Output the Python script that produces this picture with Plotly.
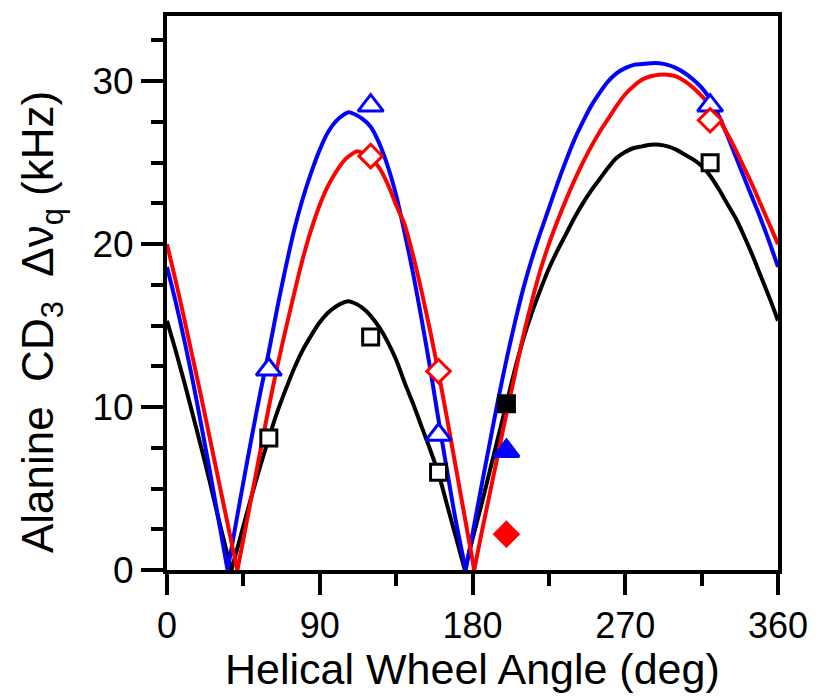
import plotly.graph_objects as go

# ---------------- data ----------------
# fitted curves: helical wheel angle (deg) -> |quadrupolar splitting| (kHz)
black_x = [0, 5, 10, 15, 20, 25, 30, 35, 38,
           45, 50, 55, 60, 65, 70, 75, 80, 85, 90, 95, 100, 105, 107, 110, 115, 120, 125,
           130, 135, 140, 145, 150, 155, 160, 165, 170, 175.5,
           180, 185, 190, 195, 200, 205, 210, 215, 220, 225, 230, 235, 240, 245, 250, 255,
           260, 265, 270, 275, 280, 285, 290, 295, 300, 305, 310, 315, 320, 325, 330, 335,
           340, 345, 350, 355, 360]
black_y = [15.3, 13.5, 11.6, 9.6, 7.6, 5.5, 3.3, 1.2, 0,
           2.7, 4.6, 6.4, 8.1, 9.7, 11.1, 12.4, 13.5, 14.4, 15.2, 15.8, 16.2, 16.45, 16.5, 16.4, 16.1, 15.6, 14.9,
           14.0, 12.9, 11.5, 10.2, 8.8, 7.4, 5.9, 4.0, 2.1, 0,
           1.9, 3.9, 6.0, 8.1, 10.2, 12.3, 14.2, 15.8, 17.2, 18.5, 19.6, 20.6, 21.6, 22.5, 23.3, 24.0,
           24.7, 25.3, 25.65, 25.9, 26.0, 26.1, 26.1, 26.0, 25.8, 25.5, 25.2, 24.8, 24.2, 23.4, 22.5, 21.6,
           20.5, 19.3, 18.0, 16.7, 15.3]

blue_x = [0, 5, 10, 15, 20, 25, 30, 35, 35.7,
          40, 45, 50, 55, 60, 65, 70, 75, 80, 85, 90, 95, 100, 105, 107, 110, 115, 120, 125,
          130, 135, 140, 145, 150, 155, 160, 165, 170, 175, 176,
          180, 185, 190, 195, 200, 205, 210, 215, 220, 225, 230, 235, 240, 245, 250, 255,
          260, 265, 270, 275, 280, 285, 290, 295, 300, 305, 310, 315, 320, 325, 330, 335,
          340, 345, 350, 355, 360]
blue_y = [18.6, 16.5, 14.2, 11.7, 9.0, 6.2, 3.3, 0.4, 0,
          2.5, 5.4, 8.2, 10.9, 13.4, 16.1, 18.6, 20.9, 22.8, 24.4, 25.8, 26.9, 27.6, 28.0, 28.1, 28.0, 27.7, 27.2, 26.2,
          24.8, 23.0, 20.7, 18.2, 15.4, 12.4, 9.2, 6.1, 3.1, 0.5, 0,
          2.2, 5.0, 7.7, 10.4, 12.9, 15.2, 17.3, 19.1, 20.7, 22.2, 23.7, 25.1, 26.4, 27.5, 28.5, 29.3,
          30.0, 30.5, 30.8, 31.0, 31.05, 31.1, 31.1, 31.0, 30.8, 30.5, 30.1, 29.6, 28.9, 27.9, 26.7, 25.4,
          24.1, 22.8, 21.5, 20.1, 18.6]

red_x = [0, 5, 10, 15, 20, 25, 30, 35, 40, 41.5,
         45, 50, 55, 60, 65, 70, 75, 80, 85, 90, 95, 100, 105, 110, 112, 115, 120, 125,
         130, 135, 140, 145, 150, 155, 160, 165, 170, 175, 180, 181,
         185, 190, 195, 200, 205, 210, 215, 220, 225, 230, 235, 240, 245, 250, 255,
         260, 265, 270, 275, 280, 285, 290, 295, 300, 305, 310, 315, 320, 325, 330, 335,
         340, 345, 350, 355, 360]
red_y = [20.0, 17.8, 15.5, 13.1, 10.7, 8.2, 5.7, 3.2, 0.7, 0,
         1.9, 4.6, 7.3, 10.0, 12.5, 14.8, 17.0, 19.1, 20.9, 22.4, 23.6, 24.5, 25.2, 25.6, 25.7, 25.6, 25.3, 24.7,
         23.7, 22.4, 21.2, 19.3, 17.1, 14.7, 12.1, 9.3, 6.4, 3.5, 0.6, 0,
         2.1, 4.6, 7.1, 9.6, 12.0, 14.4, 16.5, 18.4, 20.0, 21.4, 22.7, 23.9, 25.0, 26.0, 26.9,
         27.7, 28.5, 29.2, 29.7, 30.1, 30.3, 30.4, 30.4, 30.3, 30.0, 29.6, 29.1, 28.5, 27.7, 26.8, 25.8,
         24.7, 23.6, 22.4, 21.2, 20.0]

# measured points
black_open_x = [60, 120, 160, 320]
black_open_y = [8.1, 14.3, 6.0, 25.0]
black_filled_x = [200]
black_filled_y = [10.2]

blue_open_x = [60, 120, 160, 320]
blue_open_y = [12.3, 28.5, 8.3, 28.5]
blue_filled_x = [200]
blue_filled_y = [7.3]

red_open_x = [120, 160, 320]
red_open_y = [25.4, 12.2, 27.6]
red_filled_x = [200]
red_filled_y = [2.2]

x_ticks = [0, 90, 180, 270, 360]
y_ticks = [0, 10, 20, 30]

x_title = "Helical Wheel Angle (deg)"
y_title = "Alanine\u00a0\u00a0CD<sub>3</sub>\u00a0\u00a0\u0394\u03bd<sub>q</sub> (kHz)"

BLACK = "#000000"
BLUE = "#0000FF"
RED = "#FF0000"
FONT = "Liberation Sans, Arial, Helvetica, sans-serif"

fig = go.Figure()


def add_curve(xs, ys, color):
    # split into lobes at the zeros so the V-shaped minima stay sharp
    seg_x, seg_y = [], []
    for x, y in zip(xs, ys):
        seg_x.append(x)
        seg_y.append(y)
        if y == 0 and len(seg_x) > 1:
            fig.add_trace(go.Scatter(x=seg_x, y=seg_y, mode="lines",
                                     line=dict(color=color, width=4, shape="spline", smoothing=0.8),
                                     showlegend=False, hoverinfo="skip"))
            seg_x, seg_y = [x], [y]
    if len(seg_x) > 1:
        fig.add_trace(go.Scatter(x=seg_x, y=seg_y, mode="lines",
                                 line=dict(color=color, width=4, shape="spline", smoothing=0.8),
                                 showlegend=False, hoverinfo="skip"))


add_curve(black_x, black_y, BLACK)
add_curve(blue_x, blue_y, BLUE)
add_curve(red_x, red_y, RED)


def add_markers(xs, ys, symbol, size, color, filled):
    fig.add_trace(go.Scatter(
        x=xs, y=ys, mode="markers", showlegend=False, cliponaxis=False,
        marker=dict(symbol=symbol, size=size,
                    color=color if filled else "white",
                    line=dict(color=color, width=3))))


add_markers(black_open_x, black_open_y, "square", 16, BLACK, False)
add_markers(black_filled_x, black_filled_y, "square", 16, BLACK, True)
add_markers(blue_open_x, blue_open_y, "triangle-up", 22, BLUE, False)
add_markers(blue_filled_x, blue_filled_y, "triangle-up", 22, BLUE, True)
add_markers(red_open_x, red_open_y, "diamond", 18, RED, False)
add_markers(red_filled_x, red_filled_y, "diamond", 18, RED, True)

fig.update_layout(
    width=820, height=696,
    margin=dict(l=167, r=37, t=15, b=126),
    paper_bgcolor="white", plot_bgcolor="white",
    font=dict(family=FONT, color="black"),
    showlegend=False,
    xaxis=dict(
        range=[0, 360], tickvals=x_ticks, ticktext=[str(v) for v in x_ticks],
        ticks="outside", ticklen=21, tickwidth=4, tickcolor="black",
        minor=dict(dtick=45, tick0=0, ticks="outside", ticklen=12, tickwidth=4, tickcolor="black"),
        showline=True, linewidth=4, linecolor="black", mirror=True,
        showgrid=False, zeroline=False,
        tickfont=dict(size=36, family=FONT),
    ),
    yaxis=dict(
        range=[0, 34], tickvals=y_ticks, ticktext=[str(v) for v in y_ticks],
        ticks="outside", ticklen=22, tickwidth=4, tickcolor="black",
        minor=dict(dtick=2.5, tick0=0, ticks="outside", ticklen=12, tickwidth=4, tickcolor="black"),
        showline=True, linewidth=4, linecolor="black", mirror=True,
        showgrid=False, zeroline=False,
        tickfont=dict(size=37, family=FONT),
    ),
    annotations=[
        dict(text=x_title, xref="paper", yref="paper", x=0.5, y=-0.178,
             xanchor="center", yanchor="middle", showarrow=False,
             font=dict(size=43, family=FONT, color="black")),
        dict(text=y_title, xref="paper", yref="paper", x=-0.205, y=0.447,
             xanchor="center", yanchor="middle", textangle=-90, showarrow=False,
             font=dict(size=44, family=FONT, color="black")),
    ],
)

fig.write_html("out.html")
